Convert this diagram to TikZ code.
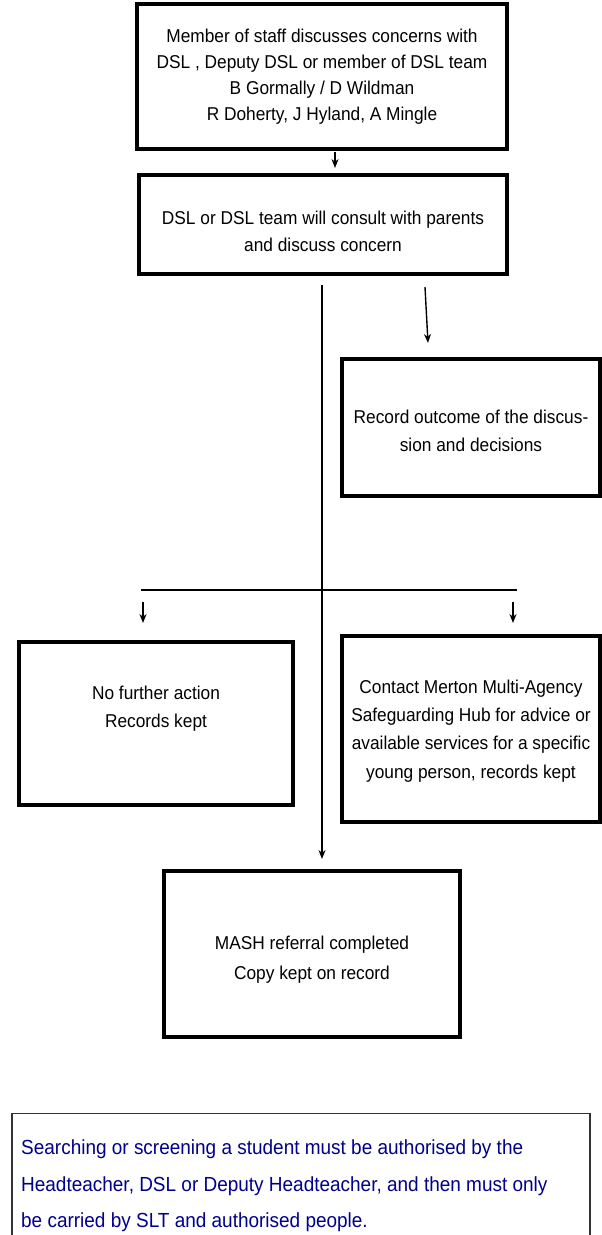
\documentclass[tikz,border=0pt]{standalone}
\usepackage{fontspec}
\setmainfont{Liberation Sans}[FakeStretch=0.93]
\usetikzlibrary{arrows.meta}
\definecolor{notenavy}{RGB}{0,0,140}
\definecolor{notegray}{RGB}{50,50,50}
\tikzset{
  flowbox/.style={draw=black, line width=4pt, rectangle, inner sep=0pt},
  boxtext/.style={align=center, inner sep=0pt, font=\fontsize{18.6}{#1}\selectfont},
  conn/.style={draw=black, line width=1.4pt, -{Stealth[length=9pt,width=7pt]}},
  plainline/.style={draw=black, line width=1.4pt},
  notetext/.style={text=notenavy, align=left, anchor=north west, inner sep=0pt,
    font=\fontsize{20.4}{36.5}\selectfont},
}
\begin{document}
\begin{tikzpicture}[x=1pt,y=-1pt]
\useasboundingbox (0,0) rectangle (602,1235);
\fill[white] (0,0) rectangle (602,1235);

\node[flowbox, minimum width=370pt, minimum height=145pt,
  label={[boxtext=26, yshift=-0.5pt]center:{Member of staff discusses concerns with\\DSL , Deputy DSL or member of DSL team\\B Gormally / D Wildman\\R Doherty, J Hyland, A Mingle}}] (staff) at (322,76.5) {};

\node[flowbox, minimum width=368pt, minimum height=99pt,
  label={[boxtext=27, yshift=-7pt]center:{DSL or DSL team will consult with parents\\and discuss concern}}] (consult) at (323,224.5) {};

\node[flowbox, minimum width=258pt, minimum height=137pt,
  label={[boxtext=28, yshift=-3pt]center:{Record outcome of the discus-\\sion and decisions}}] (record) at (471,427.5) {};

\node[flowbox, minimum width=274pt, minimum height=163pt,
  label={[boxtext=28, yshift=14.5pt]center:{No further action\\Records kept}}] (nfa) at (156,723.5) {};

\node[flowbox, minimum width=258pt, minimum height=186pt,
  label={[boxtext=28.3, yshift=-2pt]center:{Contact Merton Multi-Agency\\Safeguarding Hub for advice or\\available services for a specific\\young person, records kept}}] (mash) at (471,729) {};

\node[flowbox, minimum width=296pt, minimum height=166pt,
  label={[boxtext=30, yshift=-6pt]center:{MASH referral completed\\Copy kept on record}}] (referral) at (312,954) {};

% connectors
\coordinate (a1s) at (335,152);
\coordinate (a1e) at (335,168);
\draw[conn] (a1s) -- (a1e);

\coordinate (a2s) at (425,287);
\coordinate (a2e) at (428,343);
\draw[conn] (a2s) -- (a2e);

\coordinate (vs) at (322,285);
\coordinate (ve) at (322,859);
\draw[conn] (vs) -- (ve);

\coordinate (hl) at (141,590);
\coordinate (hr) at (517,590);
\draw[plainline] (hl) -- (hr);

\coordinate (b1s) at (143,602);
\coordinate (b1e) at (143,623);
\draw[conn] (b1s) -- (b1e);
\coordinate (b2s) at (513,602);
\coordinate (b2e) at (513,623);
\draw[conn] (b2s) -- (b2e);

% note box (open at the bottom edge of the page)
\coordinate (nbl) at (12,1236);
\coordinate (ntl) at (12,1113.5);
\coordinate (ntr) at (590,1113.5);
\coordinate (nbr) at (590,1236);
\draw[notegray, line width=1.3pt] (nbl) -- (ntl) -- (ntr) -- (nbr);
\node[notetext] (note) at (21,1140)
  {Searching or screening a student must be authorised by the\\Headteacher, DSL or Deputy Headteacher, and then must only\\be carried by SLT and authorised people.};
\end{tikzpicture}
\end{document}
